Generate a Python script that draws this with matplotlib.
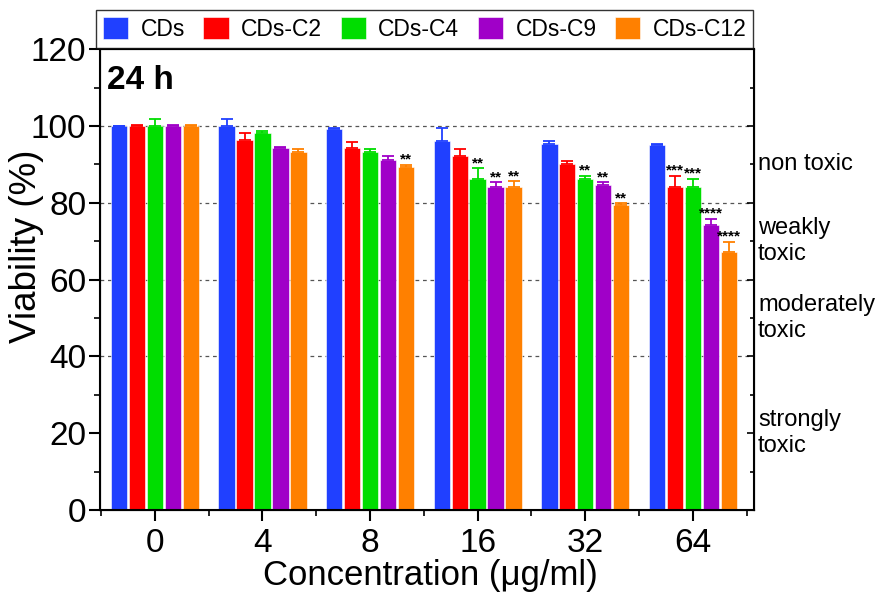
import numpy as np
import matplotlib
matplotlib.use("Agg")
from matplotlib import pyplot as plt
from matplotlib.ticker import MultipleLocator

plt.rcParams["font.family"] = ["Liberation Sans", "DejaVu Sans"]

concentrations = ["0", "4", "8", "16", "32", "64"]
series = ["CDs", "CDs-C2", "CDs-C4", "CDs-C9", "CDs-C12"]
colors = ["#2040FF", "#FF0000", "#00DD00", "#A000C8", "#FF8000"]

# viability (%) per series, one value per concentration
viability = {
    "CDs":     [100, 100.0, 99.2, 96.2, 95.2, 95.0],
    "CDs-C2":  [100, 96.3, 94.3, 92.3, 90.2, 84.2],
    "CDs-C4":  [100, 98.2, 93.3, 86.2, 86.2, 84.2],
    "CDs-C9":  [100, 94.3, 91.2, 84.2, 84.7, 74.2],
    "CDs-C12": [100, 93.2, 89.3, 84.2, 79.3, 67.2],
}
# upper error (%)
errors = {
    "CDs":     [0.0, 1.8, 0.2, 3.2, 1.0, 0.3],
    "CDs-C2":  [0.3, 1.9, 1.4, 1.6, 0.7, 2.8],
    "CDs-C4":  [1.7, 0.6, 0.6, 2.8, 0.8, 2.0],
    "CDs-C9":  [0.2, 0.2, 1.1, 1.1, 0.6, 1.7],
    "CDs-C12": [0.2, 0.9, 0.6, 1.4, 0.6, 2.7],
}
# significance markers
stars = {
    "CDs":     ["", "", "", "", "", ""],
    "CDs-C2":  ["", "", "", "", "", "***"],
    "CDs-C4":  ["", "", "", "**", "**", "***"],
    "CDs-C9":  ["", "", "", "**", "**", "****"],
    "CDs-C12": ["", "", "**", "**", "**", "****"],
}

toxicity_labels = ["non toxic", "weakly\ntoxic", "moderately\ntoxic", "strongly\ntoxic"]
toxicity_levels = [90, 70, 50, 20]

fig = plt.figure(figsize=(8.79, 5.92), dpi=100)
ax = fig.add_axes([0.1138, 0.1385, 0.858 - 0.1138, 0.917 - 0.1385])

x = np.arange(len(concentrations))
pitch = 0.167
width = 0.152
for i, name in enumerate(series):
    pos = x + (i - 2) * pitch
    vals = np.array(viability[name])
    err = np.array(errors[name])
    ax.bar(pos, vals, width, color=colors[i], edgecolor="white", linewidth=0.4,
           label=name, zorder=2)
    ax.errorbar(pos, vals, yerr=[np.zeros_like(err), err], fmt="none",
                ecolor=colors[i], elinewidth=1.3, capsize=4, capthick=1.3, zorder=3)
    for p, v, e, s in zip(pos, vals, err, stars[name]):
        if s:
            ax.text(p, v + e + 0.3, s, ha="center", va="baseline", fontsize=11,
                    fontweight="bold", color="black", zorder=4)

for lvl in [100, 80, 60, 40]:
    ax.axhline(lvl, color="#555555", linestyle=(0, (3, 3)), linewidth=0.9, zorder=1)

ax.set_xlim(-0.51, 5.57)
ax.set_ylim(0, 120)
ax.set_xticks(x)
ax.set_xticklabels(concentrations)
ax.set_xticks(np.arange(-0.5, 5.6, 1.0), minor=True)
ax.yaxis.set_major_locator(MultipleLocator(20))
ax.yaxis.set_minor_locator(MultipleLocator(10))
ax.tick_params(axis="both", which="major", labelsize=24, direction="out",
               length=8, width=1.5, right=False, top=False)
ax.tick_params(axis="x", which="major", pad=5)
ax.tick_params(axis="y", which="major", pad=2)
ax.tick_params(axis="both", which="minor", direction="out", length=4, width=1.2,
               right=False, top=False)
for side in ["left", "right", "top", "bottom"]:
    ax.spines[side].set_linewidth(1.5)

fig.text(27 / 879, 1 - 246 / 592, "Viability (%)", rotation=90, ha="center",
         va="center", fontsize=26.5)
fig.text(430 / 879, 1 - 575 / 592, "Concentration (\u03bcg/ml)", ha="center",
         va="center", fontsize=25)

# right axis with inward ticks
axr = ax.twinx()
axr.set_ylim(0, 120)
axr.yaxis.set_major_locator(MultipleLocator(20))
axr.yaxis.set_minor_locator(MultipleLocator(10))
axr.tick_params(axis="y", which="major", direction="in", length=5, width=1.2, labelright=False)
axr.tick_params(axis="y", which="minor", direction="in", length=3, width=1.2)

for lbl, lvl in zip(toxicity_labels, toxicity_levels):
    ax.text(1.006, lvl, lbl, transform=ax.get_yaxis_transform(), ha="left",
            va="center", fontsize=17, linespacing=1.25)

ax.text(0.011, 0.913, "24 h", transform=ax.transAxes, ha="left", va="baseline",
        fontsize=24, fontweight="bold")

fig.legend(loc="upper left", bbox_to_anchor=(96 / 879, 1 - 10 / 592),
           ncol=5, fontsize=16.5, frameon=True, fancybox=False, borderaxespad=0,
           edgecolor="black", handlelength=1.1, handleheight=1.1, handletextpad=0.55,
           borderpad=0.3, columnspacing=0.8)

fig.savefig("out.png", dpi=100)
